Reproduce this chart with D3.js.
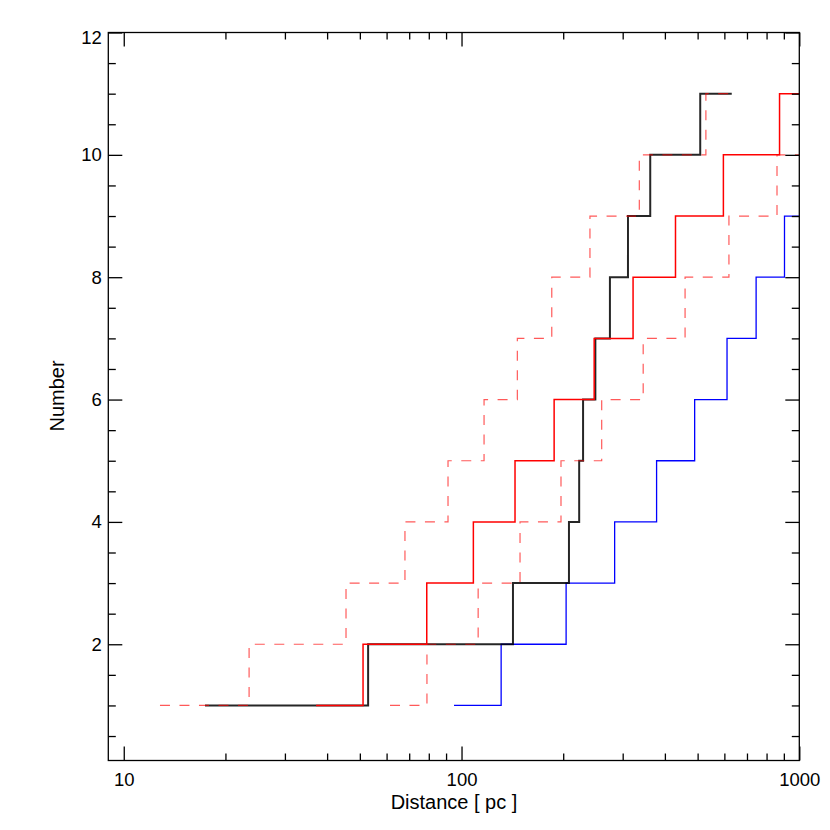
<!DOCTYPE html>
<html>
<head>
<meta charset="utf-8">
<script src="https://cdn.jsdelivr.net/npm/d3@7"></script>
<style>
  html, body { margin: 0; padding: 0; background: #fff; }
  text { font-family: "Liberation Sans", Helvetica, Arial, sans-serif; fill: #000; }
</style>
</head>
<body>
<svg id="chart" width="830" height="830"></svg>
<script>
// ---- data: step edges (distance in pc) where the cumulative count increases ----
const blackEdges   = [17.4, 52.9, 142, 208, 223, 229, 249, 275, 311, 362, 509, 631];
const redEdges     = [37.1, 51.1, 78.9, 108.4, 144, 188, 247, 322, 430, 596, 874, 1000];
const redDashAEdges = [12.8, 23.5, 45.5, 68, 91.2, 116.6, 146.3, 185, 240, 336, 529, 631];
const redDashBEdges = [61.4, 79, 112, 149, 197, 260, 345, 459, 619, 859, 1000];
const blueEdges    = [95, 131, 204, 284, 378, 490, 611, 745, 904, 1000];

const xMajorTicks = [10, 100, 1000];
const xMinorTicks = [20, 30, 40, 50, 60, 70, 80, 90, 200, 300, 400, 500, 600, 700, 800, 900];
const yMajorTicks = [2, 4, 6, 8, 10, 12];
const yMinorTicks = [0.5, 1, 1.5, 2.5, 3, 3.5, 4.5, 5, 5.5, 6.5, 7, 7.5, 8.5, 9, 9.5, 10.5, 11, 11.5];
const xDomain = [9, 1000];
const yDomain = [0.1, 12];
const xTitle = "Distance [ pc ]";
const yTitle = "Number";

// ---- layout ----
const L = 108.3, R = 799.3, T = 32.5, B = 760.5;
const svg = d3.select("#chart");
const x = d3.scaleLog().domain(xDomain).range([L, R]);
const y = d3.scaleLinear().domain(yDomain).range([B, T]);

svg.append("defs").append("clipPath").attr("id", "plotclip")
  .append("rect").attr("x", L).attr("y", T).attr("width", R - L).attr("height", B - T);

function toPoints(edges) {
  const pts = edges.map((e, i) => [e, Math.min(i + 1, edges.length - 1)]);
  return pts;
}
const line = d3.line().x(d => x(d[0])).y(d => y(d[1])).curve(d3.curveStepAfter);

const g = svg.append("g").attr("clip-path", "url(#plotclip)");
const series = [
  { edges: blueEdges, color: "#0000ff", width: 1.3, dash: null, opacity: 1 },
  { edges: blackEdges, color: "#000000", width: 2, dash: null, opacity: 0.85 },
  { edges: redEdges, color: "#ff0000", width: 1.5, dash: null, opacity: 1 },
  { edges: redDashAEdges, color: "#ff0000", width: 1.2, dash: "10,9.5", opacity: 0.65 },
  { edges: redDashBEdges, color: "#ff0000", width: 1.2, dash: "10,9.5", opacity: 0.65 }
];
series.forEach(s => {
  g.append("path")
    .attr("d", line(toPoints(s.edges)))
    .attr("fill", "none")
    .attr("stroke", s.color)
    .attr("stroke-width", s.width)
    .attr("stroke-opacity", s.opacity)
    .attr("stroke-dasharray", s.dash);
});

// ---- axes ----
function styleAxis(sel) {
  sel.select(".domain").remove();
  sel.selectAll(".tick line").attr("stroke", "#000").attr("stroke-width", 1.3);
  sel.selectAll("text").style("font-size", "18.5px").attr("fill", "#000");
}
const fmt = d3.format("d");
// bottom
svg.append("g").attr("transform", `translate(0,${B})`)
  .call(d3.axisBottom(x).tickValues(xMajorTicks).tickFormat(fmt).tickSize(-14).tickPadding(12))
  .call(styleAxis);
svg.append("g").attr("transform", `translate(0,${B})`)
  .call(d3.axisBottom(x).tickValues(xMinorTicks).tickFormat("").tickSize(-7))
  .call(styleAxis);
// top
svg.append("g").attr("transform", `translate(0,${T})`)
  .call(d3.axisTop(x).tickValues(xMajorTicks).tickFormat("").tickSize(-14))
  .call(styleAxis);
svg.append("g").attr("transform", `translate(0,${T})`)
  .call(d3.axisTop(x).tickValues(xMinorTicks).tickFormat("").tickSize(-7))
  .call(styleAxis);
// left
const leftAx = svg.append("g").attr("transform", `translate(${L},0)`)
  .call(d3.axisLeft(y).tickValues(yMajorTicks).tickFormat(fmt).tickSize(-14).tickPadding(6.6))
  .call(styleAxis);
leftAx.selectAll(".tick text").filter(d => d === yDomain[1]).attr("dy", "0.62em");
svg.append("g").attr("transform", `translate(${L},0)`)
  .call(d3.axisLeft(y).tickValues(yMinorTicks).tickFormat("").tickSize(-7.5))
  .call(styleAxis);
// right
svg.append("g").attr("transform", `translate(${R},0)`)
  .call(d3.axisRight(y).tickValues(yMajorTicks).tickFormat("").tickSize(-14))
  .call(styleAxis);
svg.append("g").attr("transform", `translate(${R},0)`)
  .call(d3.axisRight(y).tickValues(yMinorTicks).tickFormat("").tickSize(-7.5))
  .call(styleAxis);

// frame
svg.append("rect").attr("x", L).attr("y", T).attr("width", R - L).attr("height", B - T)
  .attr("fill", "none").attr("stroke", "#000").attr("stroke-width", 1.3);

// titles
svg.append("text").attr("x", 454).attr("y", 808.5).attr("text-anchor", "middle")
  .style("font-size", "20px").text(xTitle);
svg.append("text").attr("transform", "translate(63.5,396) rotate(-90)").attr("text-anchor", "middle")
  .style("font-size", "20px").text(yTitle);
</script>
</body>
</html>
